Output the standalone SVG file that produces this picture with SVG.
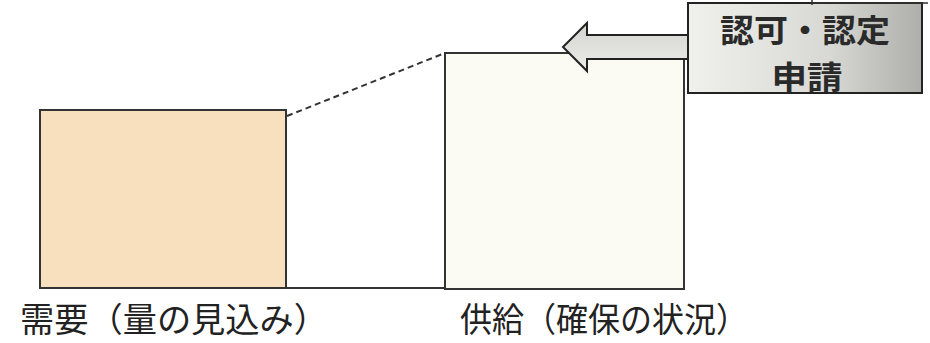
<svg xmlns="http://www.w3.org/2000/svg" width="930" height="343" viewBox="0 0 930 343">
<defs>
<linearGradient id="gbox" x1="0" y1="0" x2="1" y2="0">
<stop offset="0" stop-color="#f0f0ec"/>
<stop offset="0.6" stop-color="#d8d8d4"/>
<stop offset="1" stop-color="#aeafab"/>
</linearGradient>
<linearGradient id="garrow" x1="0" y1="0" x2="0" y2="1">
<stop offset="0" stop-color="#d3d3cf"/>
<stop offset="1" stop-color="#ecece9"/>
</linearGradient>
</defs>
<style>
.lbl{font-family:"Noto Sans CJK JP","Noto Sans",sans-serif;fill:#222;}
.bt{font-family:"Noto Sans CJK JP","Noto Sans",sans-serif;font-weight:bold;fill:#2a2a2a;text-anchor:middle;}
.edge{stroke:#333;stroke-width:2;fill:none;}
</style>
<rect width="930" height="343" fill="#ffffff"/>
<g id="connectors">
<line class="edge" x1="286" y1="288" x2="445" y2="288"/>
<line x1="287" y1="116" x2="445" y2="53" stroke="#333" stroke-width="2" stroke-dasharray="6,4"/>
</g>
<g id="demand">
<rect x="40" y="110" width="246" height="178" fill="#f8dfbd" stroke="#333" stroke-width="2"/>
<text class="lbl" x="20" y="332" font-size="34" textLength="308" lengthAdjust="spacingAndGlyphs">需要（量の見込み）</text>
</g>
<g id="supply">
<rect x="445" y="53" width="239" height="236" fill="#fbfbf3" stroke="#333" stroke-width="2"/>
<text class="lbl" x="460" y="332" font-size="34" textLength="288" lengthAdjust="spacingAndGlyphs">供給（確保の状況）</text>
</g>
<g id="application">
<path d="M690,35 L587,35 L587,23 L563,47 L587,71 L587,59 L690,59 Z" fill="url(#garrow)" stroke="#222" stroke-width="2"/>
<rect x="688" y="3" width="234" height="90" fill="url(#gbox)" stroke="#222" stroke-width="2"/>
<text class="bt" x="805" y="42" font-size="32" textLength="170" lengthAdjust="spacingAndGlyphs">認可・認定</text>
<text class="bt" x="807" y="89" font-size="32" textLength="71" lengthAdjust="spacingAndGlyphs">申請</text>
</g>
<g id="fragment">
<path d="M812,5 L812,0 M812,3 L928,3" stroke="#333" stroke-width="1.5" fill="none"/>
</g>
</svg>
